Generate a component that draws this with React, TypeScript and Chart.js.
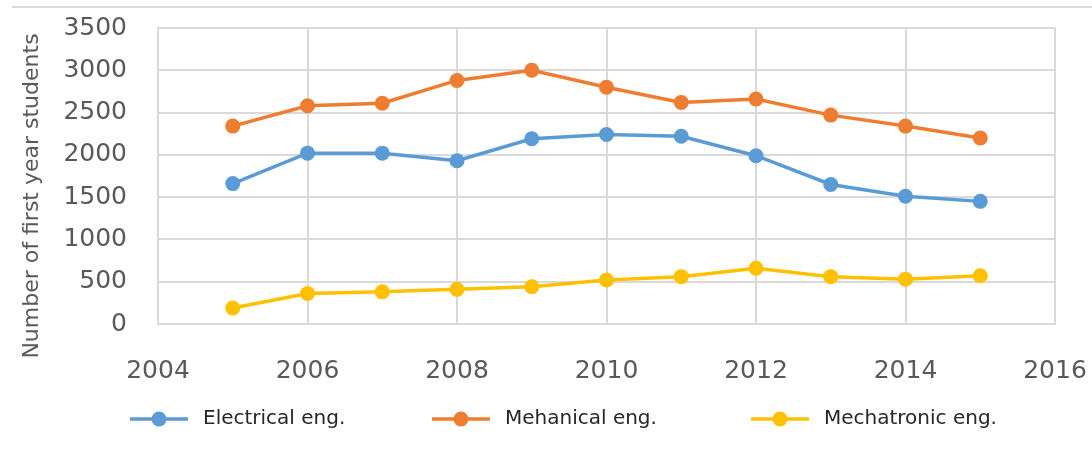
import React, { useEffect, useRef } from "react";
import { Chart, registerables } from "chart.js";

Chart.register(...registerables);

const years = [2005, 2006, 2007, 2008, 2009, 2010, 2011, 2012, 2013, 2014, 2015];
const electrical = [1660, 2020, 2020, 1930, 2190, 2240, 2220, 1990, 1650, 1510, 1450];
const mechanical = [2340, 2580, 2610, 2880, 3000, 2800, 2620, 2660, 2470, 2340, 2200];
const mechatronic = [190, 360, 380, 410, 440, 520, 560, 660, 560, 530, 570];
const seriesNames = ["Electrical eng.", "Mehanical eng.", "Mechatronic eng."];
const seriesColors = ["#5B9BD5", "#ED7D31", "#FFC000"];
const yTitle = "Number of first year students";
const xMin = 2004;
const xMax = 2016;
const xStep = 2;
const yMin = 0;
const yMax = 3500;
const yStep = 500;

const GRID = "#d9d9d9";
const TICK_COLOR = "#595959";
const TICK_FONT = "'DejaVu Sans', sans-serif";
const LEGEND_FONT = "'DejaVu Sans', sans-serif";

const decorPlugin = {
  id: "decor",
  beforeDraw(chart: any) {
    const ctx = chart.ctx;
    ctx.save();
    ctx.strokeStyle = GRID;
    ctx.lineWidth = 2;
    ctx.beginPath();
    ctx.moveTo(12, 7);
    ctx.lineTo(chart.width, 7);
    ctx.stroke();
    ctx.restore();
  },
  afterDraw(chart: any) {
    const ctx = chart.ctx;
    ctx.save();
    // y axis title
    ctx.translate(32, 196);
    ctx.rotate(-Math.PI / 2);
    ctx.fillStyle = TICK_COLOR;
    ctx.font = `22px ${TICK_FONT}`;
    ctx.textAlign = "center";
    ctx.textBaseline = "middle";
    ctx.fillText(yTitle, 0, 0);
    ctx.restore();

    // legend
    ctx.save();
    const starts = [130, 432, 751];
    const y = 419;
    ctx.font = `20px ${LEGEND_FONT}`;
    ctx.textBaseline = "middle";
    ctx.textAlign = "left";
    seriesNames.forEach((name, i) => {
      const x0 = starts[i];
      ctx.strokeStyle = seriesColors[i];
      ctx.lineWidth = 3.5;
      ctx.beginPath();
      ctx.moveTo(x0, y);
      ctx.lineTo(x0 + 58, y);
      ctx.stroke();
      ctx.fillStyle = seriesColors[i];
      ctx.beginPath();
      ctx.arc(x0 + 29, y, 7.5, 0, Math.PI * 2);
      ctx.fill();
      ctx.fillStyle = "#262626";
      ctx.fillText(name, x0 + 73, y);
    });
    ctx.restore();
  },
};

export default function App() {
  const ref = useRef<HTMLCanvasElement | null>(null);

  useEffect(() => {
    document.body.style.margin = "0";
    const seriesValues = [electrical, mechanical, mechatronic];
    const chart = new Chart(ref.current as HTMLCanvasElement, {
      type: "line",
      data: {
        datasets: seriesNames.map((name, i) => ({
          label: name,
          data: years.map((yr, j) => ({ x: yr, y: seriesValues[i][j] })),
          borderColor: seriesColors[i],
          backgroundColor: seriesColors[i],
          pointBackgroundColor: seriesColors[i],
          pointBorderColor: seriesColors[i],
          borderWidth: 3.5,
          pointRadius: 7.5,
          pointBorderWidth: 0,
          tension: 0,
        })),
      },
      options: {
        responsive: false,
        animation: false,
        layout: { padding: { top: 28, right: 37, left: 0, bottom: 0 } },
        plugins: {
          legend: { display: false },
          tooltip: { enabled: false },
        },
        scales: {
          x: {
            type: "linear",
            min: xMin,
            max: xMax,
            ticks: {
              stepSize: xStep,
              color: TICK_COLOR,
              font: { family: TICK_FONT, size: 25 },
              padding: 32,
              maxRotation: 0,
              callback: (v: any) => String(v),
            },
            grid: { color: GRID, lineWidth: 2, drawTicks: false },
            border: { color: GRID, width: 2 },
            afterFit: (s: any) => {
              s.height = 128;
              s.paddingLeft = 0;
              s.paddingRight = 0;
            },
          },
          y: {
            min: yMin,
            max: yMax,
            ticks: {
              stepSize: yStep,
              color: TICK_COLOR,
              font: { family: TICK_FONT, size: 25 },
              padding: 31,
              callback: (v: any) => String(v),
            },
            grid: { color: GRID, lineWidth: 2, drawTicks: false },
            border: { color: GRID, width: 2 },
            afterFit: (s: any) => {
              s.width = 158;
              s.paddingTop = 0;
              s.paddingBottom = 0;
            },
          },
        },
      },
      plugins: [decorPlugin],
    });
    return () => chart.destroy();
  }, []);

  return <canvas ref={ref} width={1092} height={452} />;
}
